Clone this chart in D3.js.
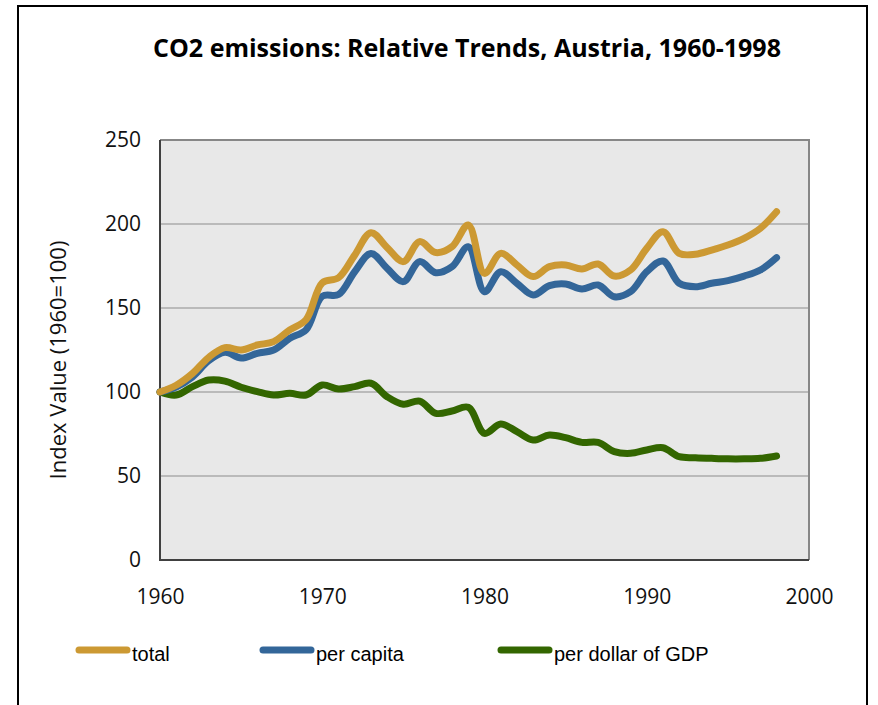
<!DOCTYPE html>
<html><head><meta charset="utf-8">
<script src="https://cdn.jsdelivr.net/npm/d3@7"></script>
<style>
html,body{margin:0;padding:0;background:#fff;}
svg{display:block;}
</style></head>
<body>
<svg id="chart" width="878" height="705"></svg>
<script>
const years = d3.range(1960, 1999);
const total = [100,104,111,120.6,126.4,125,128,130,137,143,165,168,181.5,194.8,186,177.6,189.5,183,186.5,199.4,170.6,182.5,175.6,168.7,174.6,175.6,173.2,176.2,169,172.6,185.5,195.4,182.5,182,184.5,187.5,191.5,197.4,207.3];
const perCapita = [100,103,109,118.6,123.6,120.2,123,125,132,137,157,158,171.6,182.5,173.6,165.7,177.6,171,174.6,186.5,159.7,171.6,164.7,157.7,163.3,164.3,161.3,163.7,156.7,159.7,171.6,178,164.7,162.7,164.7,166.3,169,172.6,180];
const perGDP = [100,98.2,103.2,107.1,106.5,102.8,100.2,98.2,99.2,98.2,104.2,101.8,103.2,105.2,97.2,92.7,94.6,87.3,88.7,90.9,75.4,81,76.4,71.4,74.4,72.8,70,70,64.5,63.5,65.5,66.8,61.5,60.9,60.5,60.2,60.2,60.5,61.9];
const seriesNames = ["total","per capita","per dollar of GDP"];
const seriesColors = ["#CC9933","#336699","#336600"];
const yTicks = [0,50,100,150,200,250];
const xTicks = [1960,1970,1980,1990,2000];
const title = "CO2 emissions: Relative Trends, Austria, 1960-1998";
const yTitle = "Index Value (1960=100)";

const svg = d3.select("#chart");
// outer frame
svg.append("rect").attr("x",18).attr("y",6).attr("width",849).attr("height",710)
  .attr("fill","#fff").attr("stroke","#000").attr("stroke-width",2);

const L=160, R=809, T=140, B=560;
const x = d3.scaleLinear().domain([1960,2000]).range([L,R]);
const y = d3.scaleLinear().domain([0,250]).range([B,T]);

svg.append("rect").attr("x",L).attr("y",T).attr("width",R-L).attr("height",B-T).attr("fill","#E8E8E8");

// gridlines
svg.append("g").selectAll("line").data(yTicks.filter(d=>d>0 && d<250)).join("line")
  .attr("x1",L).attr("x2",R).attr("y1",d=>y(d)).attr("y2",d=>y(d))
  .attr("stroke","#ABABAB").attr("stroke-width",1.3);

// top/right border
svg.append("path").attr("d",`M${L},${T}H${R}V${B}`).attr("fill","none").attr("stroke","#878787").attr("stroke-width",2);

const fontMain = "'Open Sans', 'Noto Sans', sans-serif";

// axes
const yAxis = d3.axisLeft(y).tickValues(yTicks).tickSize(0).tickPadding(19);
const gy = svg.append("g").attr("transform",`translate(${L},0)`).call(yAxis);
gy.select(".domain").remove();
gy.selectAll("text").attr("font-family",fontMain).attr("font-size",21).attr("fill","#111");

const xAxis = d3.axisBottom(x).tickValues(xTicks).tickFormat(d3.format("d")).tickSize(0).tickPadding(29);
const gx = svg.append("g").attr("transform",`translate(0,${B})`).call(xAxis);
gx.select(".domain").remove();
gx.selectAll("text").attr("font-family",fontMain).attr("font-size",21).attr("fill","#111");

// left & bottom axis lines
svg.append("path").attr("d",`M${L},${T}V${B}H${R}`).attr("fill","none").attr("stroke","#404040").attr("stroke-width",2);

// lines
const seriesData = [total, perCapita, perGDP];
const line = d3.line().x((d,i)=>x(years[i])).y(d=>y(d)).curve(d3.curveCatmullRom.alpha(0.5));
[2,1,0].forEach(k=>{
  svg.append("path").datum(seriesData[k]).attr("d",line)
    .attr("fill","none").attr("stroke",seriesColors[k]).attr("stroke-width",7)
    .attr("stroke-linecap","round").attr("stroke-linejoin","round");
});

// title
svg.append("text").attr("x",467).attr("y",57).attr("text-anchor","middle")
  .attr("font-family",fontMain).attr("font-weight","bold").attr("font-size",25).attr("fill","#000").text(title);

// y title
svg.append("text").attr("transform","translate(66,360) rotate(-90)").attr("text-anchor","middle")
  .attr("font-family",fontMain).attr("font-size",22).attr("fill","#111").text(yTitle);

// legend
const legX = [76,260,498];
const lg = svg.append("g");
seriesNames.forEach((n,i)=>{
  lg.append("line").attr("x1",legX[i]+3).attr("x2",legX[i]+51).attr("y1",650).attr("y2",650)
    .attr("stroke",seriesColors[i]).attr("stroke-width",7).attr("stroke-linecap","round");
  lg.append("text").attr("x",legX[i]+56).attr("y",661).attr("font-family","'Liberation Sans', Arial, sans-serif")
    .attr("font-size",20).attr("fill","#000").text(n);
});
</script>
</body></html>
